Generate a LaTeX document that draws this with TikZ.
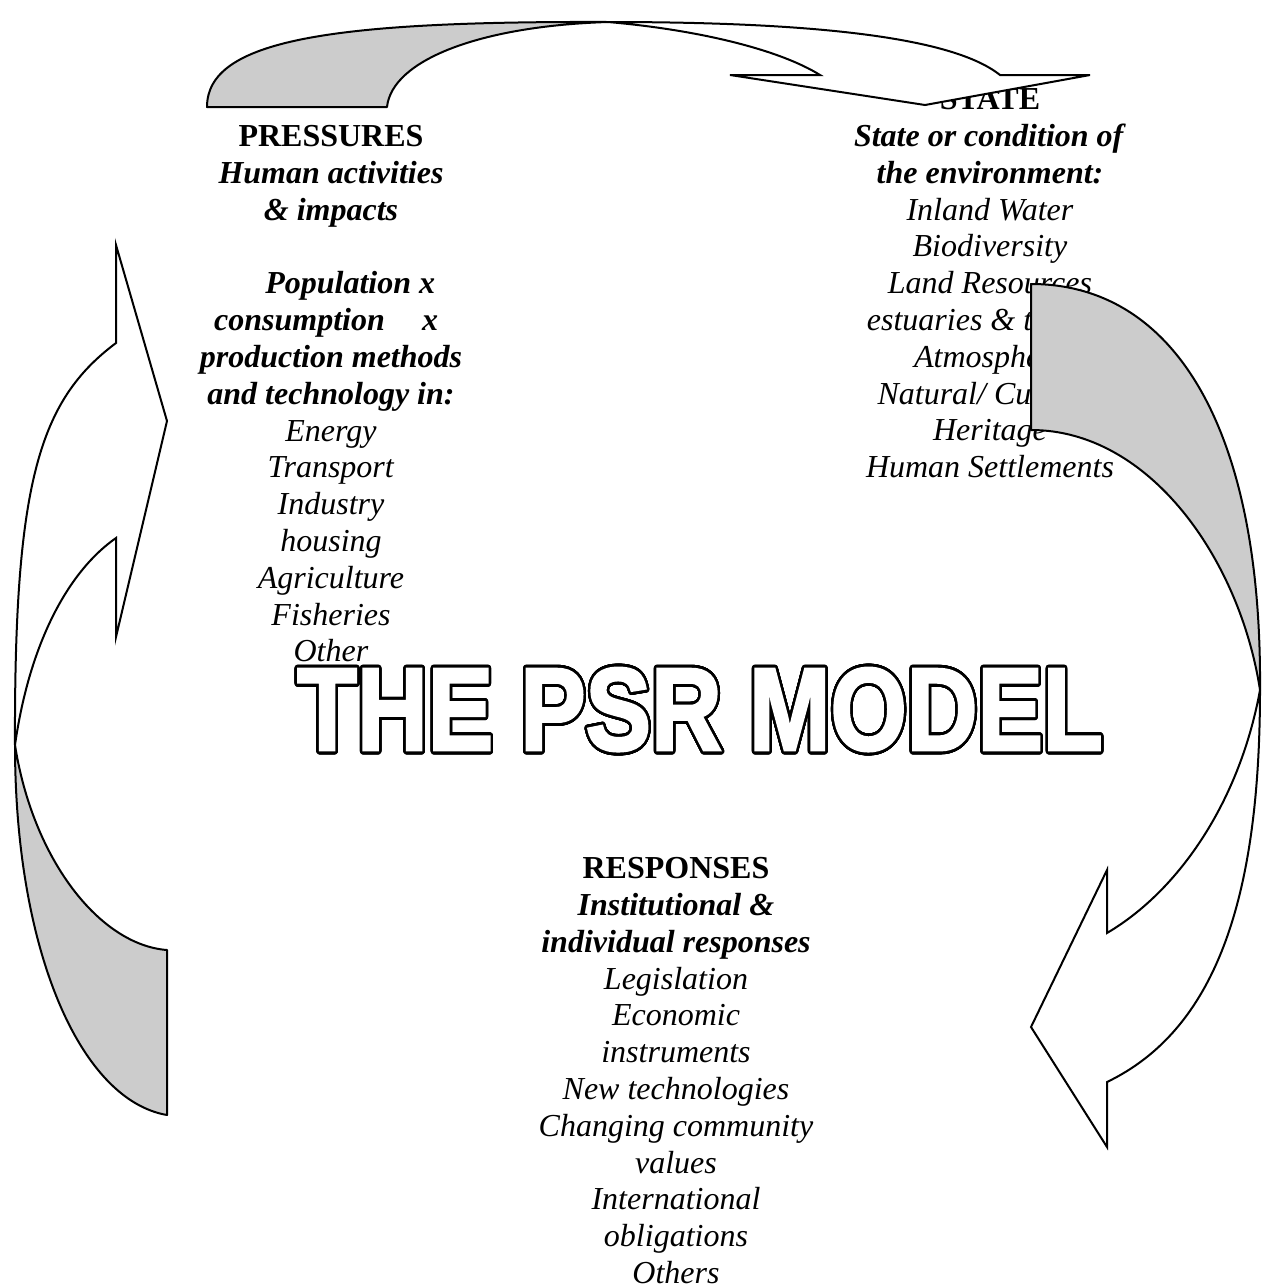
\documentclass[tikz,border=0pt]{standalone}
\usepackage{fontspec}
\usepackage{graphicx}
\usepackage{contour}
\setmainfont{Liberation Serif}
\newfontfamily\titlefont{Liberation Sans}[BoldFeatures={FakeBold=2.5}]
\contourlength{1.1pt}
\contournumber{48}
\definecolor{backgray}{RGB}{204,204,204}
\tikzset{
  back/.style={fill=backgray, draw=black, line width=0.75pt, line join=round},
  front/.style={fill=white, draw=black, line width=0.75pt, line join=miter},
  blk/.style={align=center, inner sep=0pt, anchor=north, font=\fontsize{12}{13.8}\selectfont},
  titlestyle/.style={inner sep=0pt, text=white, font=\titlefont\bfseries\fontsize{44}{44}\selectfont}
}
\begin{document}
\begin{tikzpicture}[x=0.375pt, y=-0.375pt]
\useasboundingbox (0,0) rectangle (1263,1286);

% text blocks
\node[blk] (pressures) at (331,125) {\textbf{PRESSURES}\\
\textbf{\textit{Human activities}}\\
\textbf{\textit{\& impacts}}\\
\mbox{}\\
\hspace*{1.2em}\textbf{\textit{Population x}}\\
\hspace*{-0.3em}\makebox[7em]{\bfseries\itshape consumption\hfill x}\\
\textbf{\textit{production methods}}\\
\textbf{\textit{and technology in:}}\\
\textit{Energy}\\
\textit{Transport}\\
\textit{Industry}\\
\textit{housing}\\
\textit{Agriculture}\\
\textit{Fisheries}\\
\textit{Other}};

\node[blk] (state) at (990,88) {\textbf{STATE}\\
\textbf{\textit{State or condition of}}\\
\textbf{\textit{the environment:}}\\
\textit{Inland Water}\\
\textit{Biodiversity}\\
\textit{Land Resources}\\
\textit{estuaries \& the sea}\\
\textit{Atmosphere}\\
\textit{Natural/ Cultural}\\
\textit{Heritage}\\
\textit{Human Settlements}};

\node[blk] (responses) at (676,857) {\textbf{RESPONSES}\\
\textbf{\textit{Institutional \&}}\\
\textbf{\textit{individual responses}}\\
\textit{Legislation}\\
\textit{Economic}\\
\textit{instruments}\\
\textit{New technologies}\\
\textit{Changing community}\\
\textit{values}\\
\textit{International}\\
\textit{obligations}\\
\textit{Others}};

\node[titlestyle] (title) at (700,711) {\scalebox{0.835}[1]{\contour{black}{THE PSR MODEL}}};

% top curved arrow (pressures -> state)
\path[back] (207,107) -- (387,107)
  .. controls (392,60) and (480,26) .. (608,22)
  .. controls (330,21) and (207,40) .. (207,107) -- cycle;
\path[front] (608,22) .. controls (800,22) and (950,35) .. (1000,75)
  -- (1090,75) -- (925,105) -- (730,75) -- (820,75)
  .. controls (780,50) and (700,30) .. (608,22) -- cycle;

% right curved arrow (state -> responses)
\path[back] (1031,284) -- (1031,430)
  .. controls (1150,430) and (1240,560) .. (1260,690)
  .. controls (1262,430) and (1175,284) .. (1031,284) -- cycle;
\path[front] (1260,690) .. controls (1260,900) and (1215,1030) .. (1107,1082)
  -- (1107,1147) -- (1031,1027) -- (1107,870) -- (1107,933)
  .. controls (1180,890) and (1240,800) .. (1260,690) -- cycle;

% left curved arrow (responses -> pressures)
\path[back] (167,950) -- (167,1115)
  .. controls (80,1100) and (15,950) .. (15,745)
  .. controls (33,860) and (100,945) .. (167,950) -- cycle;
\path[front] (116,343) .. controls (40,400) and (14,480) .. (15,745)
  .. controls (30,640) and (70,570) .. (116,538)
  -- (116,637) -- (167,421) -- (116,245) -- cycle;
\end{tikzpicture}
\end{document}
